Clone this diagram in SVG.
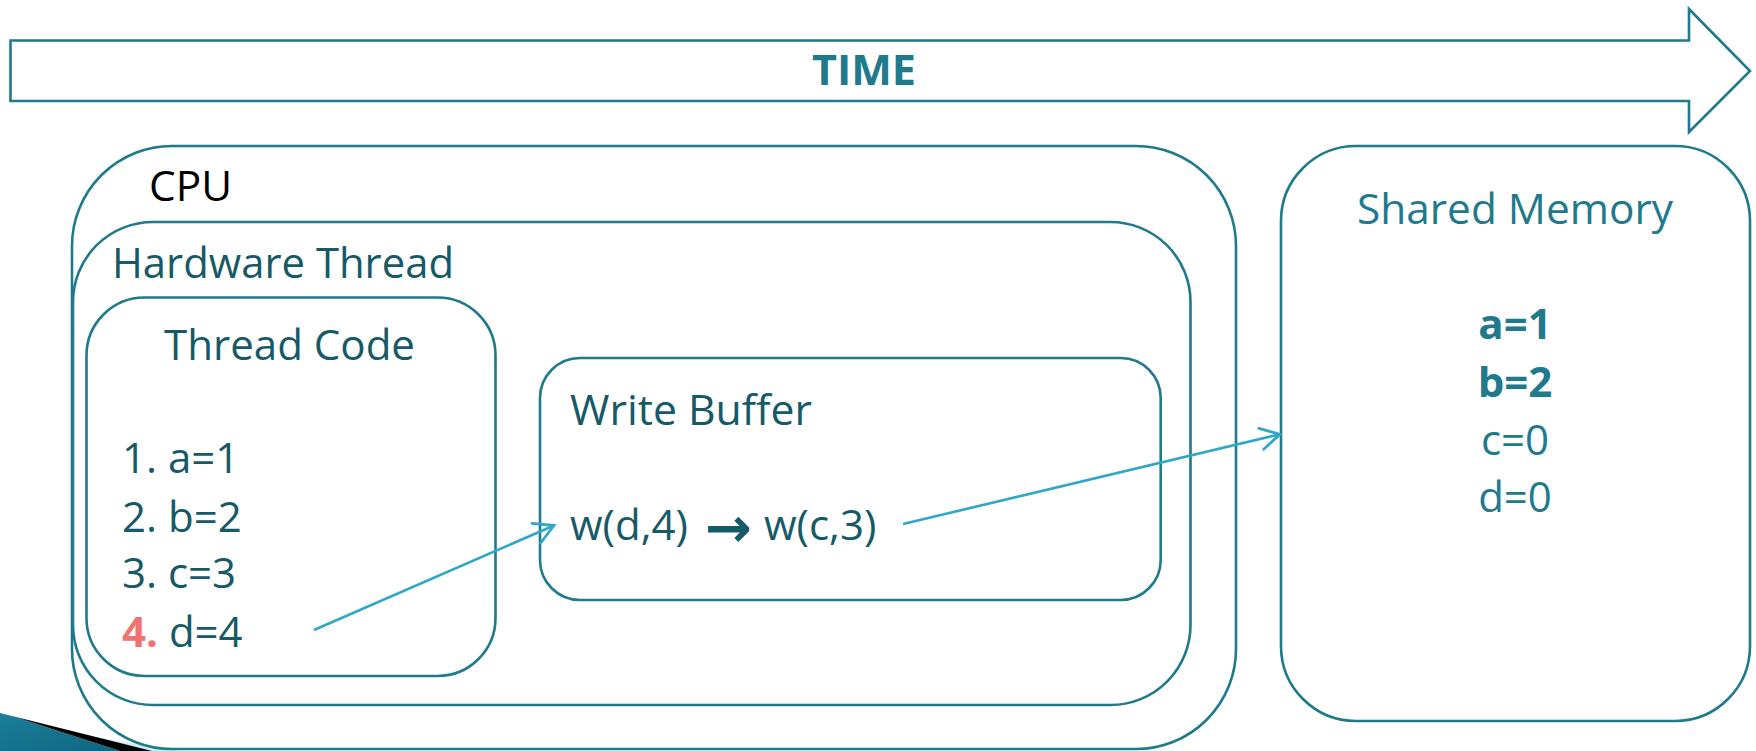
<svg xmlns="http://www.w3.org/2000/svg" width="1756" height="751" viewBox="0 0 1756 751">
  <style>
    .box { fill: none; stroke: #1f7a8c; stroke-width: 2.6; }
    .lbl { font-family: "Open Sans", "Noto Sans", "Liberation Sans", sans-serif; font-size: 42px; fill: #175a67; }
    .mem { fill: #217a8c; }
    .bold { font-weight: bold; }
    .conn { fill: none; stroke: #2fa7c7; stroke-width: 2.6; }
  </style>
  <defs>
    <marker id="openArrow" markerUnits="userSpaceOnUse" markerWidth="30" markerHeight="30" viewBox="-22 -14 26 28" refX="0" refY="0" orient="auto">
      <path d="M-18,-10 L0,0 L-18,10" fill="none" stroke="#2fa7c7" stroke-width="2.6" stroke-linecap="round" stroke-linejoin="miter"/>
    </marker>
    <linearGradient id="wedgeFill" x1="0" y1="0" x2="1" y2="1">
      <stop offset="0" stop-color="#1b7f9a"/>
      <stop offset="1" stop-color="#0e6580"/>
    </linearGradient>
  </defs>

  <!-- corner ornament -->
  <g id="corner-ornament">
    <polygon points="70,733 178,751 150,751" fill="#d4eaf2"/>
    <polygon points="0,713 14,716.5 120,751 0,751" fill="url(#wedgeFill)"/>
    <polygon points="14,716.5 152,751 120,751" fill="#000"/>
  </g>

  <!-- time axis -->
  <g id="time">
    <polygon class="box" points="10.5,40.5 1689,40.5 1689,9 1750,71 1689,132 1689,101 10.5,101"/>
    <text class="lbl bold mem" x="812" y="85" font-size="39" textLength="104" lengthAdjust="spacingAndGlyphs">TIME</text>
  </g>

  <g id="cpu">
    <rect class="box" x="72" y="146" width="1164" height="603" rx="100" ry="100"/>
    <text class="lbl" x="149" y="201" style="fill:#000" textLength="83" lengthAdjust="spacingAndGlyphs">CPU</text>
  </g>

  <g id="hardware-thread">
    <rect class="box" x="73" y="222" width="1117.5" height="483" rx="80" ry="80"/>
    <text class="lbl" x="112" y="278" textLength="342" lengthAdjust="spacingAndGlyphs">Hardware Thread</text>
  </g>

  <g id="thread-code">
    <rect class="box" x="86.5" y="297.5" width="409" height="378.5" rx="58" ry="58"/>
    <text class="lbl" x="164" y="360" textLength="251" lengthAdjust="spacingAndGlyphs">Thread Code</text>
    <text class="lbl" x="122" y="473">1. a=1</text>
    <text class="lbl" x="122" y="532">2. b=2</text>
    <text class="lbl" x="122" y="588">3. c=3</text>
    <text class="lbl" x="122" y="647"><tspan class="bold" style="fill:#ee7373">4.</tspan> d=4</text>
  </g>

  <g id="write-buffer">
    <rect class="box" x="540" y="358" width="620.7" height="242" rx="40" ry="40"/>
    <text class="lbl" x="570" y="425" textLength="242" lengthAdjust="spacingAndGlyphs">Write Buffer</text>
    <text class="lbl" y="540"><tspan x="570">w(d,4)</tspan><tspan x="705" y="547" font-family="DejaVu Sans, sans-serif" font-weight="bold" font-size="56">→</tspan><tspan x="764" y="540">w(c,3)</tspan></text>
  </g>

  <g id="shared-memory">
    <rect class="box" x="1281" y="146" width="469" height="575" rx="75" ry="75"/>
    <text class="lbl mem" x="1515" y="224" text-anchor="middle" textLength="316" lengthAdjust="spacingAndGlyphs">Shared Memory</text>
    <text class="lbl mem bold" x="1515" y="339" text-anchor="middle">a=1</text>
    <text class="lbl mem bold" x="1515" y="397" text-anchor="middle">b=2</text>
    <text class="lbl mem" x="1515" y="455" text-anchor="middle">c=0</text>
    <text class="lbl mem" x="1515" y="512" text-anchor="middle">d=0</text>
  </g>

  <g id="connectors">
    <line class="conn" x1="314" y1="630" x2="554" y2="525.5" marker-end="url(#openArrow)"/>
    <line class="conn" x1="903" y1="524" x2="1280" y2="434.3" marker-end="url(#openArrow)"/>
  </g>
</svg>
